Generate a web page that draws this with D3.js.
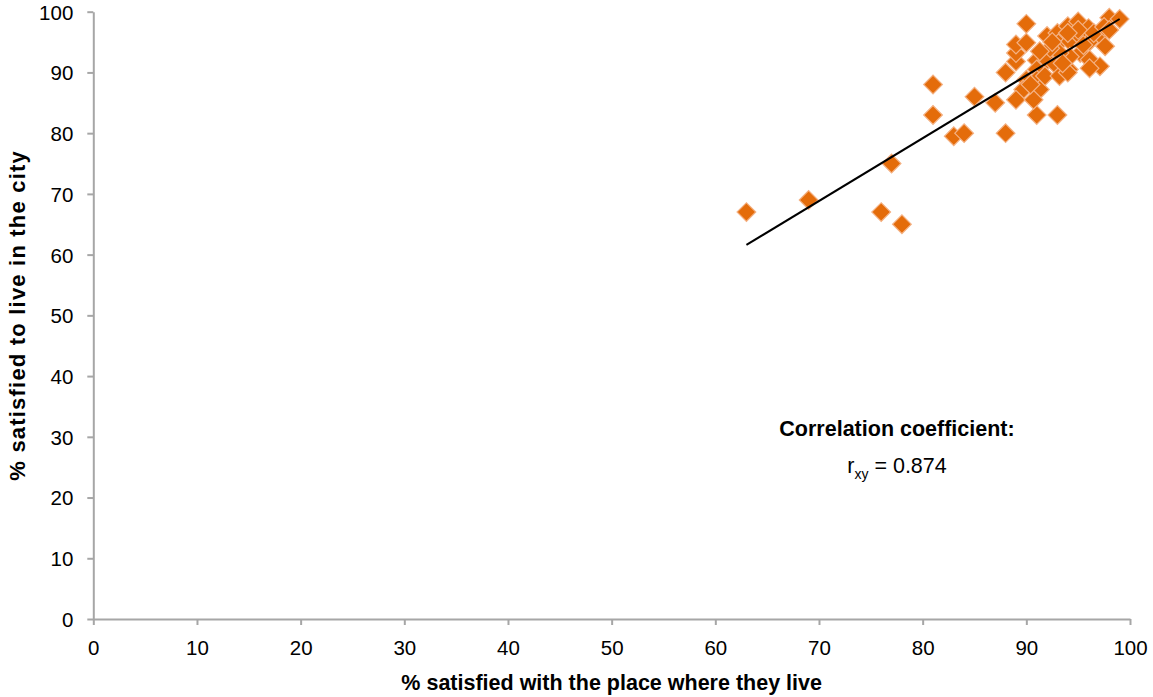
<!DOCTYPE html>
<html>
<head>
<meta charset="utf-8">
<script src="https://cdn.jsdelivr.net/npm/d3@7"></script>
<style>
  html, body { margin: 0; padding: 0; background: #fff; }
  svg { display: block; font-family: "Liberation Sans", Arial, Helvetica, sans-serif; }
</style>
</head>
<body>
<svg id="chart" width="1153" height="697"></svg>
<script>
// ---- Data ----
const placeSatisfaction = [63, 69, 76, 78, 77, 81, 81, 83, 84, 85, 87, 88, 91, 93,
  88, 89, 89, 89, 90, 90,
  91, 92, 92.8, 92, 93, 94, 95, 96, 98, 99,
  93.1, 94.2, 95.2, 96.1, 97.1, 97.6,
  94.1, 95.2, 96.1, 97.1, 96.1, 91, 90, 91, 89.7, 91.3, 89, 90.7,
  94.2, 93.2, 92.3, 91.3, 90.4, 91.8, 93.2, 94, 95, 94, 96.5, 97.5, 92.5, 95.5, 93.5, 98];
const citySatisfaction = [67, 69, 67, 65, 75, 88, 83, 79.5, 80, 86, 85, 80, 83, 83,
  90, 91.8, 93.2, 94.6, 94.9, 98,
  92, 92, 91.3, 96, 96.5, 97.6, 98.4, 97.3, 99, 98.8,
  94.8, 95.1, 95.9, 95.1, 96.2, 94.3,
  90.5, 93.2, 92.1, 91, 90.7, 90.5, 88.8, 88.8, 87.2, 87.2, 85.5, 85.5,
  92.6, 93.2, 94, 93.5, 88, 89.4, 89.4, 90, 97, 96.5, 96.5, 97.5, 95, 94.5, 91.5, 97];
const trendX = [63, 99];
const trendY = [61.6, 98.8];
const xTicks = [0, 10, 20, 30, 40, 50, 60, 70, 80, 90, 100];
const yTicks = [0, 10, 20, 30, 40, 50, 60, 70, 80, 90, 100];
const xTitle = "% satisfied with the place where they live";
const yTitle = "% satisfied to live in the city";
const corrLabel = "Correlation coefficient:";
const corrValue = "0.874";

// ---- Chart ----
const svg = d3.select("#chart");
const x = d3.scaleLinear().domain([0, 100]).range([93.3, 1130]);
const y = d3.scaleLinear().domain([0, 100]).range([619, 11.7]);
const axisColor = "#a6a6a6";

const xAxis = svg.append("g").attr("transform", `translate(0,${y(0)})`)
  .call(d3.axisBottom(x).tickValues(xTicks).tickSize(6).tickPadding(15).tickSizeOuter(0));
const yAxis = svg.append("g").attr("transform", `translate(${x(0)},0)`)
  .call(d3.axisLeft(y).tickValues(yTicks).tickSize(6).tickPadding(14).tickSizeOuter(0));
[xAxis, yAxis].forEach(a => {
  a.selectAll("path.domain").attr("stroke", axisColor).attr("stroke-width", 2);
  a.selectAll(".tick line").attr("stroke", axisColor).attr("stroke-width", 2);
  a.selectAll(".tick text").attr("fill", "#000").style("font-size", "20.5px")
    .style("font-family", '"Liberation Sans", Arial, sans-serif');
});
xAxis.selectAll(".tick text").attr("dy", "0.72em");
yAxis.selectAll(".tick text").attr("dy", "0.36em");

// points
const pts = placeSatisfaction.map((v, i) => ({x: v, y: citySatisfaction[i]}));
const diamond = d3.symbol().type(d3.symbolSquare).size(175);
svg.append("g").selectAll("path").data(pts).join("path")
  .attr("d", diamond)
  .attr("transform", d => `translate(${x(d.x)},${y(d.y)}) rotate(45)`)
  .attr("fill", "#e46c0a")
  .attr("stroke", "#f4b183")
  .attr("stroke-width", 1.2);

// trend line
svg.append("path")
  .datum(trendX.map((v, i) => [v, trendY[i]]))
  .attr("d", d3.line().x(d => x(d[0])).y(d => y(d[1])))
  .attr("fill", "none").attr("stroke", "#000").attr("stroke-width", 2);

// axis titles
svg.append("text").attr("x", (x(0) + x(100)) / 2).attr("y", 690)
  .attr("text-anchor", "middle").style("font-size", "21.5px").style("font-weight", "bold")
  .text(xTitle);
svg.append("text").attr("transform", `translate(25,${(y(0) + y(100)) / 2}) rotate(-90)`)
  .attr("text-anchor", "middle").style("font-size", "22px").style("font-weight", "bold")
  .style("letter-spacing", "1.2px")
  .text(yTitle);

// annotation
svg.append("text").attr("x", 897).attr("y", 436).attr("text-anchor", "middle")
  .style("font-size", "21.5px").style("font-weight", "bold").text(corrLabel);
const t = svg.append("text").attr("x", 897).attr("y", 473).attr("text-anchor", "middle")
  .style("font-size", "21.5px");
t.append("tspan").text("r");
t.append("tspan").attr("dy", 6).style("font-size", "14px").text("xy");
t.append("tspan").attr("dy", -6).text(" = " + corrValue);
</script>
</body>
</html>
